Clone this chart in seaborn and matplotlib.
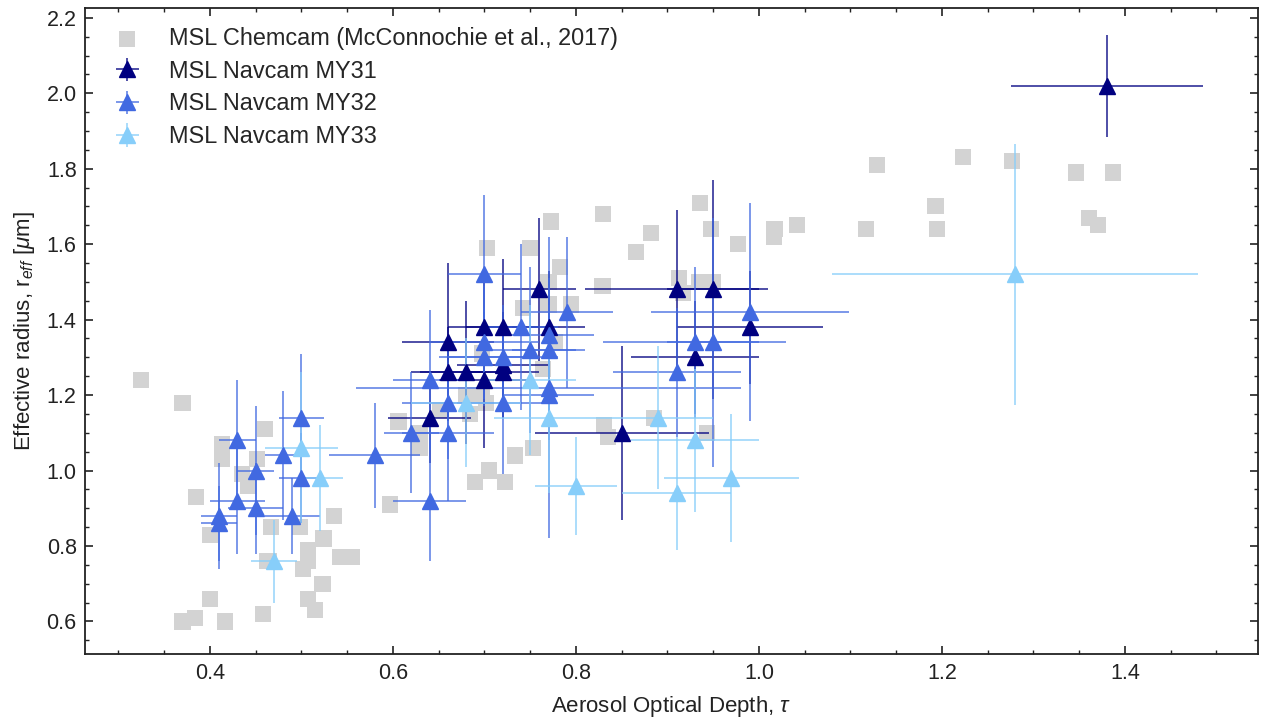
import matplotlib
matplotlib.use("Agg")
import matplotlib.pyplot as plt
from matplotlib.colors import to_rgba
from matplotlib.ticker import MultipleLocator, FormatStrFormatter
import numpy as np
import pandas as pd
import seaborn as sns

# ChemCam retrievals (grey squares)
chem_tau = [0.325, 0.370, 0.413, 0.413, 0.460, 0.451, 0.435, 0.442, 0.385, 0.400,
            0.467, 0.462, 0.400, 0.384, 0.370, 0.416, 0.458, 0.498, 0.536, 0.524,
            0.507, 0.507, 0.502, 0.542, 0.555, 0.464, 0.523, 0.507, 0.515, 0.597,
            0.606, 0.629, 0.629, 0.733, 0.753, 0.690, 0.705, 0.722, 0.684, 0.651,
            0.831, 0.835, 0.830, 0.773, 0.703, 0.750, 0.783, 0.770, 0.829, 0.742,
            0.770, 0.795, 0.777, 0.764, 0.697, 0.697, 0.680, 0.702, 0.936, 0.882,
            0.866, 0.948, 0.977, 1.016, 1.017, 1.042, 0.913, 0.935, 0.950, 0.917,
            0.885, 0.943, 1.129, 1.223, 1.277, 1.347, 1.387, 1.193, 1.195, 1.117,
            1.361, 1.371, 1.016]
chem_reff = [1.24, 1.18, 1.07, 1.03, 1.11, 1.03, 0.99, 0.96, 0.93, 0.83,
             0.85, 0.76, 0.66, 0.61, 0.60, 0.60, 0.62, 0.85, 0.88, 0.82,
             0.79, 0.76, 0.74, 0.77, 0.77, 0.76, 0.70, 0.66, 0.63, 0.91,
             1.13, 1.10, 1.06, 1.04, 1.06, 0.97, 1.00, 0.97, 1.15, 1.16,
             1.12, 1.09, 1.68, 1.66, 1.59, 1.59, 1.54, 1.50, 1.49, 1.43,
             1.44, 1.44, 1.34, 1.27, 1.31, 1.20, 1.20, 1.18, 1.71, 1.63,
             1.58, 1.64, 1.60, 1.63, 1.64, 1.65, 1.51, 1.50, 1.50, 1.47,
             1.14, 1.10, 1.81, 1.83, 1.82, 1.79, 1.79, 1.70, 1.64, 1.64,
             1.67, 1.65, 1.62]

# Navcam retrievals, Mars Year 31
my31_tau = [0.64, 0.66, 0.66, 0.68, 0.70, 0.70, 0.72, 0.72, 0.72, 0.76,
            0.77, 0.85, 0.91, 0.93, 0.95, 0.99, 1.38]
my31_reff = [1.14, 1.34, 1.26, 1.26, 1.38, 1.24, 1.38, 1.28, 1.26, 1.48,
             1.38, 1.10, 1.48, 1.30, 1.48, 1.38, 2.02]
my31_tau_err = [0.045, 0.05, 0.04, 0.05, 0.04, 0.05, 0.04, 0.05, 0.04, 0.04,
                0.04, 0.095, 0.10, 0.07, 0.05, 0.08, 0.105]
my31_reff_err = [0.12, 0.21, 0.12, 0.19, 0.12, 0.18, 0.18, 0.14, 0.12, 0.19,
                 0.15, 0.23, 0.21, 0.15, 0.29, 0.15, 0.135]

# Navcam retrievals, Mars Year 32
my32_tau = [0.41, 0.41, 0.43, 0.43, 0.45, 0.45, 0.48, 0.49, 0.50, 0.50,
            0.58, 0.62, 0.64, 0.64, 0.66, 0.66, 0.70, 0.70, 0.70, 0.72,
            0.72, 0.74, 0.75, 0.77, 0.77, 0.77, 0.77, 0.79, 0.91, 0.93,
            0.95, 0.99]
my32_reff = [0.88, 0.86, 1.08, 0.92, 1.00, 0.90, 1.04, 0.88, 1.14, 0.98,
             1.04, 1.10, 1.24, 0.92, 1.18, 1.10, 1.52, 1.34, 1.30, 1.30,
             1.18, 1.38, 1.32, 1.36, 1.32, 1.22, 1.20, 1.42, 1.26, 1.34,
             1.34, 1.42]
my32_tau_err = [0.02, 0.02, 0.02, 0.03, 0.02, 0.03, 0.02, 0.03, 0.025, 0.025,
                0.05, 0.03, 0.04, 0.04, 0.05, 0.05, 0.04, 0.06, 0.05, 0.06,
                0.05, 0.04, 0.05, 0.05, 0.04, 0.21, 0.05, 0.05, 0.07, 0.10,
                0.05, 0.108]
my32_reff_err = [0.14, 0.10, 0.16, 0.14, 0.17, 0.12, 0.17, 0.10, 0.17, 0.12,
                 0.14, 0.16, 0.185, 0.16, 0.15, 0.18, 0.21, 0.15, 0.13, 0.14,
                 0.19, 0.22, 0.22, 0.15, 0.12, 0.40, 0.12, 0.20, 0.17, 0.20,
                 0.33, 0.29]

# Navcam retrievals, Mars Year 33
my33_tau = [0.47, 0.50, 0.52, 0.68, 0.75, 0.77, 0.80, 0.89, 0.91, 0.93, 0.97, 1.28]
my33_reff = [0.76, 1.06, 0.98, 1.18, 1.24, 1.14, 0.96, 1.14, 0.94, 1.08, 0.98, 1.52]
my33_tau_err = [0.025, 0.04, 0.025, 0.06, 0.05, 0.06, 0.045, 0.06, 0.06, 0.07, 0.074, 0.20]
my33_reff_err = [0.11, 0.20, 0.14, 0.17, 0.20, 0.20, 0.13, 0.19, 0.15, 0.19, 0.17, 0.345]

series_labels = ["MSL Navcam MY31", "MSL Navcam MY32", "MSL Navcam MY33"]
series_colors = ["#000080", "#4169E1", "#87CEFA"]
chem_label = "MSL Chemcam (McConnochie et al., 2017)"

sns.set_style("ticks")
plt.rcParams["font.family"] = ["Liberation Sans", "DejaVu Sans"]
plt.rcParams["mathtext.fontset"] = "custom"
plt.rcParams["mathtext.rm"] = "Liberation Sans"
plt.rcParams["mathtext.it"] = "Liberation Sans:italic"
plt.rcParams["mathtext.default"] = "it"

fig, ax = plt.subplots(figsize=(12.63, 7.18), dpi=100)
fig.subplots_adjust(left=0.0673, right=0.996, bottom=0.0885, top=0.9889)

chem = pd.DataFrame({"tau": chem_tau, "reff": chem_reff})
sns.scatterplot(data=chem, x="tau", y="reff", marker="s", s=135,
                color="#d3d3d3", edgecolor="none", linewidth=0,
                ax=ax, zorder=1, label=chem_label)

series = [
    (my31_tau, my31_reff, my31_tau_err, my31_reff_err),
    (my32_tau, my32_reff, my32_tau_err, my32_reff_err),
    (my33_tau, my33_reff, my33_tau_err, my33_reff_err),
]
for (tau, reff, terr, rerr), lab, col in zip(series, series_labels, series_colors):
    ax.errorbar(tau, reff, xerr=terr, yerr=rerr, fmt="^", ms=12,
                color=col, mec=col, ecolor=to_rgba(col, 0.75),
                elinewidth=1.3, capsize=0, label=lab, zorder=3)

ax.set_xlim(0.2634, 1.5454)
ax.set_ylim(0.5125, 2.226)
ax.xaxis.set_major_locator(MultipleLocator(0.2))
ax.xaxis.set_minor_locator(MultipleLocator(0.05))
ax.yaxis.set_major_locator(MultipleLocator(0.2))
ax.yaxis.set_minor_locator(MultipleLocator(0.05))
ax.xaxis.set_major_formatter(FormatStrFormatter("%.1f"))
ax.yaxis.set_major_formatter(FormatStrFormatter("%.1f"))
ax.tick_params(which="both", direction="in", top=True, right=True,
               colors="#222222", labelcolor="#222222")
ax.tick_params(which="major", length=6, width=1.2, labelsize=15.5, pad=6)
ax.tick_params(which="minor", length=3, width=1.0)
for sp in ax.spines.values():
    sp.set_linewidth(1.3)
    sp.set_color("#222222")

ax.set_xlabel(r"Aerosol Optical Depth, $\tau$", fontsize=16, color="#222222",
              labelpad=7)
ax.set_ylabel(r"Effective radius, r$_{eff}$ [$\mu$m]", fontsize=16, color="#222222",
              labelpad=7)

handles, labels = ax.get_legend_handles_labels()
order = [labels.index(chem_label)] + [labels.index(l) for l in series_labels]
ax.legend([handles[i] for i in order], [labels[i] for i in order],
          loc="upper left", frameon=False, fontsize=16.9, labelspacing=0.42,
          borderaxespad=0.4, borderpad=0.4)

fig.savefig("out.png", dpi=100)
